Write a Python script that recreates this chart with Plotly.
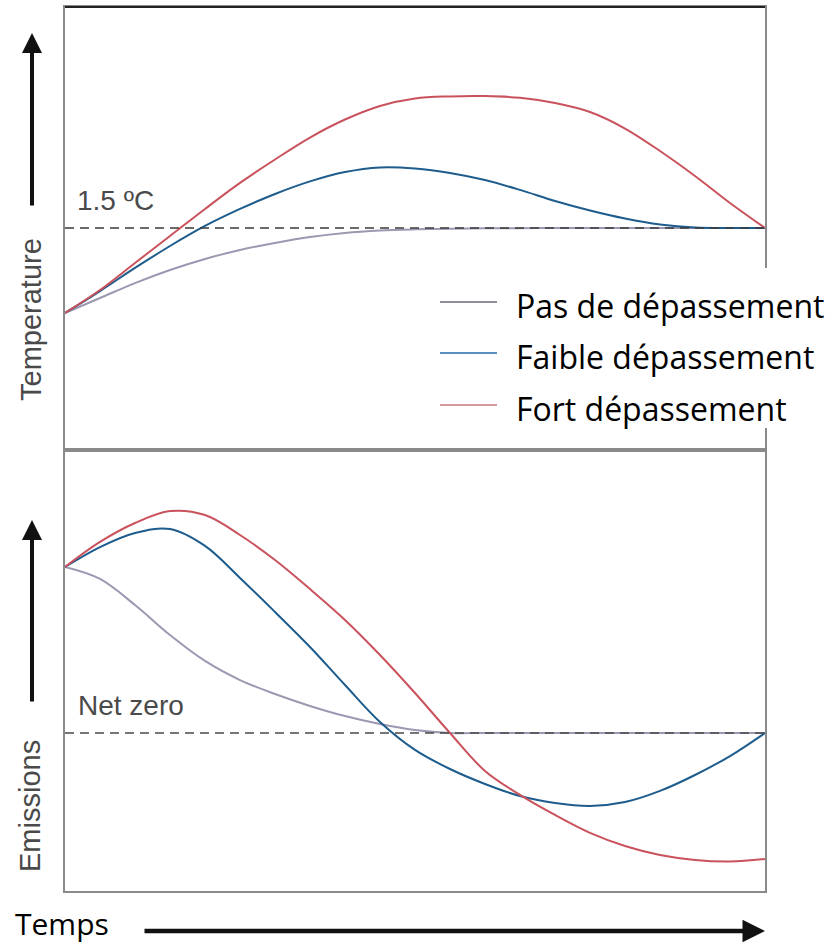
import plotly.graph_objects as go

# Time axis (arbitrary units, 0 = today, 100 = end of the century)
time = [0, 5, 10, 15, 20, 25, 30, 35, 40, 45, 50, 55, 60, 65, 70, 75, 80, 85, 90, 95, 100]

# Global temperature trajectories (°C above pre-industrial)
temp_none = [1.0, 1.088, 1.176, 1.253, 1.318, 1.371, 1.412, 1.447, 1.471, 1.485, 1.492,
             1.496, 1.498, 1.499, 1.5, 1.5, 1.5, 1.5, 1.5, 1.5, 1.5]
temp_low = [1.0, 1.129, 1.265, 1.394, 1.512, 1.612, 1.700, 1.774, 1.829, 1.856, 1.850,
            1.824, 1.782, 1.724, 1.659, 1.603, 1.556, 1.521, 1.503, 1.5, 1.5]
temp_high = [1.0, 1.135, 1.294, 1.453, 1.612, 1.765, 1.903, 2.032, 2.138, 2.218, 2.262,
             2.274, 2.276, 2.266, 2.235, 2.182, 2.085, 1.953, 1.806, 1.647, 1.5]

# Net CO2 emissions (relative to today's level)
emis_none = [1.0, 0.928, 0.771, 0.590, 0.434, 0.319, 0.235, 0.163, 0.102, 0.054, 0.018,
             0.0, 0.0, 0.0, 0.0, 0.0, 0.0, 0.0, 0.0, 0.0, 0.0]
emis_low = [1.0, 1.120, 1.205, 1.229, 1.127, 0.934, 0.729, 0.518, 0.289, 0.066, -0.102,
            -0.217, -0.307, -0.380, -0.422, -0.440, -0.416, -0.349, -0.253, -0.139, 0.0]
emis_high = [1.0, 1.151, 1.265, 1.337, 1.313, 1.193, 1.042, 0.867, 0.681, 0.470, 0.241,
             0.0, -0.229, -0.373, -0.494, -0.602, -0.681, -0.735, -0.765, -0.774, -0.759]

series_names = ["Pas de dépassement", "Faible dépassement", "Fort dépassement"]
line_colors = ["#9b98b2", "#1d5c8c", "#c9525c"]
legend_colors = ["#8f8e9f", "#5b8fc1", "#d8979e"]

temp_limit = 1.5
temp_limit_label = "1.5 ºC"
net_zero = 0.0
net_zero_label = "Net zero"

W, H = 833, 945


def fx(p):
    return p / W


def fy(p):
    return 1 - p / H


label_font = dict(family="Liberation Sans, Arial, sans-serif", size=28, color="#4a4a4a")
big_font = dict(family="Open Sans, sans-serif", size=31, color="#000000")

fig = go.Figure()

temps = [temp_none, temp_low, temp_high]
emis = [emis_none, emis_low, emis_high]
for name, col, t_vals, e_vals in zip(series_names, line_colors, temps, emis):
    fig.add_trace(go.Scatter(x=time, y=t_vals, mode="lines", name=name,
                             line=dict(color=col, width=2, shape="spline", smoothing=1.0),
                             xaxis="x", yaxis="y", showlegend=False, hoverinfo="skip"))
    fig.add_trace(go.Scatter(x=time, y=e_vals, mode="lines", name=name,
                             line=dict(color=col, width=2, shape="spline", smoothing=1.0),
                             xaxis="x2", yaxis="y2", showlegend=False, hoverinfo="skip"))

axis_common = dict(showline=True, mirror=True, linecolor="#8a8a8a", linewidth=1.5,
                   showticklabels=False, ticks="", showgrid=False, zeroline=False)

x_dom = [fx(65), fx(765)]
fig.update_layout(
    width=W, height=H,
    margin=dict(l=0, r=0, t=0, b=0),
    paper_bgcolor="white", plot_bgcolor="white",
    xaxis=dict(domain=x_dom, range=[0, 100], anchor="y", **axis_common),
    xaxis2=dict(domain=x_dom, range=[0, 100], anchor="y2", **axis_common),
    yaxis=dict(domain=[fy(450), fy(7)], range=[0.194, 2.8], anchor="x", **axis_common),
    yaxis2=dict(domain=[fy(891), fy(450)], range=[-0.952, 1.705], anchor="x2", **axis_common),
    showlegend=False,
)

shapes = []
# darker top frame edge
shapes.append(dict(type="line", xref="x domain", yref="y domain", x0=0, x1=1, y0=1, y1=1,
                   layer="above", line=dict(color="#222222", width=1.8)))
# threshold lines
shapes.append(dict(type="line", xref="x domain", yref="y", x0=0, x1=1,
                   y0=temp_limit, y1=temp_limit,
                   line=dict(color="#3a3a3a", width=1.5, dash="9px,6px")))
shapes.append(dict(type="line", xref="x2 domain", yref="y2", x0=0, x1=1,
                   y0=net_zero, y1=net_zero,
                   line=dict(color="#4a4a4a", width=1.5, dash="9px,6px")))
# legend panel
shapes.append(dict(type="rect", xref="paper", yref="paper", layer="above",
                   x0=fx(430), x1=1, y0=fy(428), y1=fy(268),
                   fillcolor="white", line=dict(width=0)))
legend_rows = [302, 353, 405]
for col, row in zip(legend_colors, legend_rows):
    shapes.append(dict(type="line", xref="paper", yref="paper", layer="above",
                       x0=fx(440), x1=fx(497), y0=fy(row), y1=fy(row),
                       line=dict(color=col, width=2)))
fig.update_layout(shapes=shapes)

annotations = []
for name, row in zip(series_names, legend_rows):
    annotations.append(dict(text=name, xref="paper", yref="paper", x=fx(514), y=fy(row + 3),
                            xanchor="left", yanchor="middle", showarrow=False,
                            font=dict(big_font, size=32)))

annotations.append(dict(text=temp_limit_label, xref="paper", yref="paper", x=fx(75), y=fy(200),
                        xanchor="left", yanchor="middle", showarrow=False, font=label_font))
annotations.append(dict(text=net_zero_label, xref="paper", yref="paper", x=fx(76), y=fy(705),
                        xanchor="left", yanchor="middle", showarrow=False, font=label_font))

# axis titles
annotations.append(dict(text="Temperature", xref="paper", yref="paper", x=fx(31), y=fy(320),
                        xanchor="center", yanchor="middle", textangle=-90, showarrow=False,
                        font=dict(label_font, size=29)))
annotations.append(dict(text="Emissions", xref="paper", yref="paper", x=fx(30), y=fy(806),
                        xanchor="center", yanchor="middle", textangle=-90, showarrow=False,
                        font=dict(label_font, size=29)))
annotations.append(dict(text="Temps", xref="paper", yref="paper", x=fx(13), y=fy(923),
                        xanchor="left", yanchor="middle", showarrow=False,
                        font=dict(big_font, size=30)))

# direction arrows
arrow_style = dict(text="", showarrow=True, arrowhead=2, arrowsize=1, arrowcolor="#111111",
                   axref="pixel", ayref="pixel", xref="paper", yref="paper")
annotations.append(dict(x=fx(32), y=fy(33), ax=0, ay=207 - 33, arrowwidth=4, **arrow_style))
annotations.append(dict(x=fx(32), y=fy(520), ax=0, ay=703 - 520, arrowwidth=4, **arrow_style))
annotations.append(dict(x=fx(765), y=fy(931), ax=-(765 - 143), ay=0, arrowwidth=4.5, **arrow_style))

fig.update_layout(annotations=annotations)

fig.write_html("out.html")
